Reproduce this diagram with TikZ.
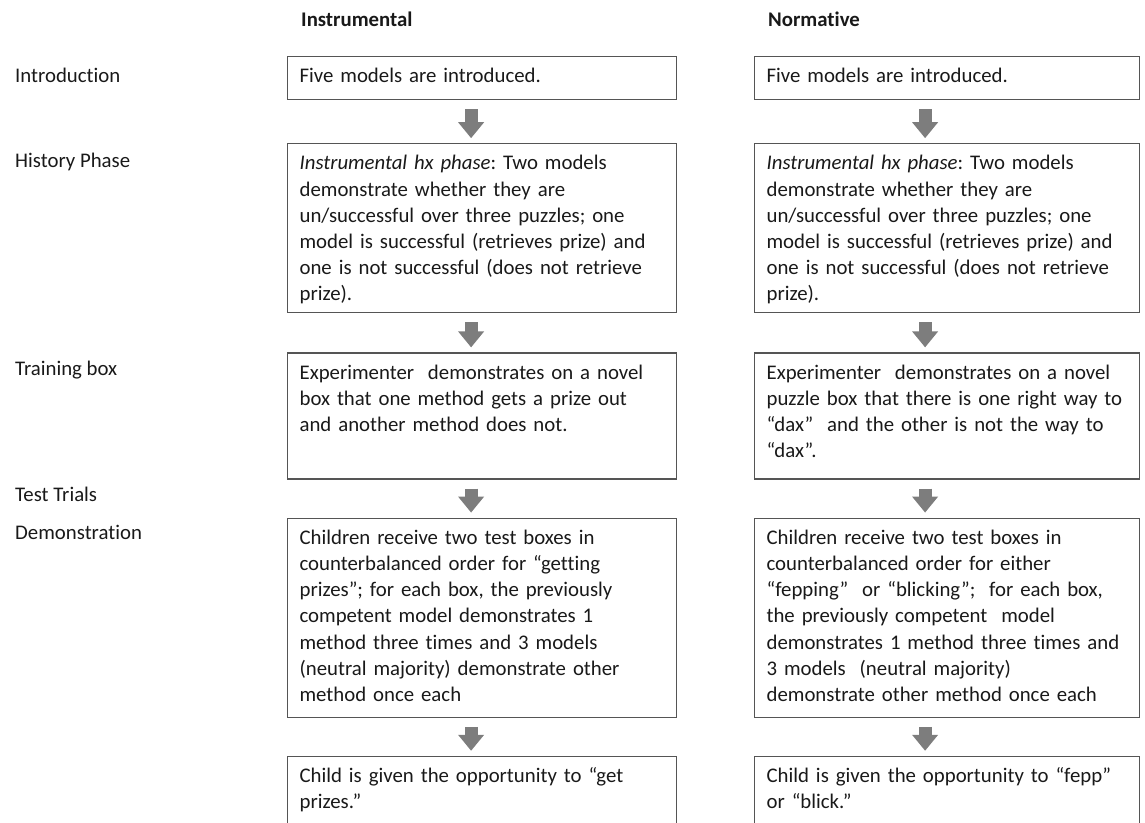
\documentclass[tikz,border=0pt]{standalone}
\usepackage{fontspec}
\setmainfont{Carlito}[Ligatures=NoCommon]
\usetikzlibrary{positioning,arrows.meta}
\definecolor{boxline}{RGB}{85,85,85}
\definecolor{arrowgrey}{RGB}{125,125,125}
\definecolor{ink}{RGB}{25,25,25}
\frenchspacing

\begin{document}
\begin{tikzpicture}[x=1pt, y=-1pt, node distance=38pt,
    every node/.style={text=ink, font=\fontsize{20.8}{26.2}\selectfont}]
  \tikzstyle{stage}=[draw=boxline, line width=1.2pt, align=left, inner xsep=12pt,
                     inner ysep=0pt, text height=26pt, anchor=north west]
  \tikzstyle{phase}=[anchor=base west, inner sep=0pt]
  \tikzstyle{head}=[anchor=base west, inner sep=0pt, font=\fontsize{20.8}{26.2}\selectfont\bfseries]
  \tikzstyle{flow}=[arrowgrey, line width=13pt, -{Triangle[width=25pt,length=16pt]},
                    shorten <=9pt, shorten >=5pt]
  \useasboundingbox (0,0) rectangle (1145,822);

  % column headings
  \node[head] (hinst) at (301,26) {Instrumental};
  \node[head] (hnorm) at (768,26) {Normative};

  % phase names
  \node[phase] (lintro) at (15,82)  {Introduction};
  \node[phase] (lhist)  at (15,167) {History Phase};
  \node[phase] (ltrain) at (15,375) {Training box};
  \node[phase] (ltest)  at (15,501) {Test Trials};
  \node[phase] (ldemo)  at (15,539) {Demonstration};

  % instrumental column
  \node[stage, text width=365pt, text depth=17pt] (i1) at (287,56)
    {Five models are introduced.};
  \node[stage, text width=365pt, text depth=143pt, below=43pt of i1] (i2)
    {\textit{Instrumental hx phase}: Two models\\
     demonstrate whether they are\\
     un/successful over three puzzles; one\\
     model is successful (retrieves prize) and\\
     one is not successful (does not retrieve\\
     prize).};
  \node[stage, text width=365pt, text depth=100pt, below=39pt of i2] (i3)
    {Experimenter~ demonstrates on a novel\\
     box that one method gets a prize out\\
     and another method does not.};
  \node[stage, text width=365pt, text depth=173pt, below=38pt of i3] (i4)
    {Children receive two test boxes in\\
     counterbalanced order for “getting\\
     prizes”; for each box, the previously\\
     competent model demonstrates 1\\
     method three times and 3 models\\
     (neutral majority) demonstrate other\\
     method once each};
  \node[stage, text width=365pt, text depth=100pt, below=38pt of i4] (i5)
    {Child is given the opportunity to “get\\
     prizes.”};

  % normative column
  \node[stage, text width=361pt, text depth=17pt] (n1) at (754,56)
    {Five models are introduced.};
  \node[stage, text width=361pt, text depth=143pt, below=43pt of n1] (n2)
    {\textit{Instrumental hx phase}: Two models\\
     demonstrate whether they are\\
     un/successful over three puzzles; one\\
     model is successful (retrieves prize) and\\
     one is not successful (does not retrieve\\
     prize).};
  \node[stage, text width=361pt, text depth=100pt, below=39pt of n2] (n3)
    {Experimenter~ demonstrates on a novel\\
     puzzle box that there is one right way to\\
     “dax”~ and the other is not the way to\\
     “dax”.};
  \node[stage, text width=361pt, text depth=173pt, below=38pt of n3] (n4)
    {Children receive two test boxes in\\
     counterbalanced order for either\\
     “fepping”~ or “blicking”;~ for each box,\\
     the previously competent~ model\\
     demonstrates 1 method three times and\\
     3 models~ (neutral majority)\\
     demonstrate other method once each};
  \node[stage, text width=361pt, text depth=100pt, below=38pt of n4] (n5)
    {Child is given the opportunity to “fepp”\\
     or “blick.”};

  % block arrows
  \draw[flow] ([xshift=-11pt]i1.south) -- ([xshift=-11pt]i2.north);
  \draw[flow] ([xshift=-11pt]i2.south) -- ([xshift=-11pt]i3.north);
  \draw[flow] ([xshift=-11pt]i3.south) -- ([xshift=-11pt]i4.north);
  \draw[flow] ([xshift=-11pt]i4.south) -- ([xshift=-11pt]i5.north);
  \draw[flow] ([xshift=-22pt]n1.south) -- ([xshift=-22pt]n2.north);
  \draw[flow] ([xshift=-22pt]n2.south) -- ([xshift=-22pt]n3.north);
  \draw[flow] ([xshift=-22pt]n3.south) -- ([xshift=-22pt]n4.north);
  \draw[flow] ([xshift=-22pt]n4.south) -- ([xshift=-22pt]n5.north);
\end{tikzpicture}
\end{document}
